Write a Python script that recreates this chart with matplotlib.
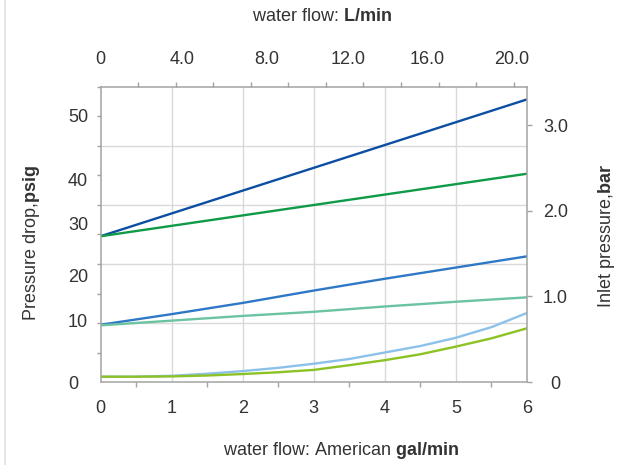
import matplotlib
matplotlib.use("Agg")
import matplotlib.pyplot as plt
from matplotlib.lines import Line2D

plt.rcParams['font.family'] = ['Liberation Sans', 'DejaVu Sans']
plt.rcParams['mathtext.fontset'] = 'custom'
plt.rcParams['mathtext.rm'] = 'Liberation Sans'
plt.rcParams['mathtext.bf'] = 'Liberation Sans:bold'

# water flow, US gal/min
flow_lin = [0, 6]
flow_fine = [0, 0.5, 1, 1.5, 2, 2.5, 3, 3.5, 4, 4.5, 5, 5.5, 6]
flow_int = [0, 1, 2, 3, 4, 5, 6]

# pressure drop, psig
dark_blue = [24.7, 47.9]
green = [24.7, 35.3]
mid_blue = [9.7, 11.5, 13.4, 15.5, 17.5, 19.4, 21.3]
teal = [9.6, 10.4, 11.2, 11.9, 12.8, 13.6, 14.35]
light_blue = [0.9, 0.9, 1.05, 1.4, 1.85, 2.4, 3.1, 3.9, 5.0, 6.1, 7.5, 9.3, 11.7]
lime = [0.9, 0.9, 0.95, 1.1, 1.35, 1.65, 2.05, 2.85, 3.7, 4.7, 6.0, 7.4, 9.1]

# tick labels as printed (the labels sit a bit off the real scale)
psig_labels = ["0", "10", "20", "30", "40", "50"]
psig_label_pos = [0, 10.4, 18.0, 26.9, 34.4, 45.1]
lmin_labels = ["0", "4.0", "8.0", "12.0", "16.0", "20.0"]
lmin_label_pos = [0, 4.37, 8.84, 13.17, 17.4, 21.9]
bar_ticks = [0, 1.0, 2.0, 3.0]
bar_labels = ["0", "1.0", "2.0", "3.0"]

GAL_TO_L = 3.785
PSI_PER_BAR = 14.5
text_c = "#333333"
spine_c = "#a3a3a3"
grid_c = "#d9d9d9"
fs = 13

# plot box in pixels
L, R, T, B = 100.5, 527.0, 87.0, 382.0
W, H = R - L, B - T

fig = plt.figure(figsize=(6.2, 4.65), dpi=100)
ax = fig.add_axes([L / 620, (465 - B) / 465, W / 620, H / 465])

xmax = 6
ymax = 50
ax.set_xlim(0, xmax)
ax.set_ylim(0, ymax)

for g in [1, 2, 3, 4, 5]:
    ax.axvline(g, color=grid_c, lw=1.0, zorder=0)
for g in [10, 20, 30, 40]:
    ax.axhline(g, color=grid_c, lw=1.0, zorder=0)

ax.plot(flow_lin, dark_blue, color="#0b4ea2", lw=1.7)
ax.plot(flow_lin, green, color="#0f9a48", lw=1.7)
ax.plot(flow_int, mid_blue, color="#2e78c6", lw=1.7)
ax.plot(flow_int, teal, color="#6cc3a2", lw=1.7)
ax.plot(flow_fine, light_blue, color="#8cc1e9", lw=1.7)
ax.plot(flow_fine, lime, color="#8cc224", lw=1.7)

for s in ax.spines.values():
    s.set_color(spine_c)
    s.set_linewidth(1.1)

# bottom axis
ax.set_xticks(flow_int)
ax.set_xticks([0.5, 1.5, 2.5, 3.5, 4.5, 5.5] + flow_int, minor=True)
ax.tick_params(axis='x', which='major', length=0, pad=13, labelsize=fs, labelcolor=text_c)
ax.tick_params(axis='x', which='minor', length=3.6, width=1.0, color=spine_c, direction='out')

# left axis
ax.set_yticks(psig_label_pos, psig_labels)
ax.set_yticks(range(0, 51, 5), minor=True)
ax.tick_params(axis='y', which='major', length=0, pad=23.5, labelsize=fs, labelcolor=text_c)
ax.tick_params(axis='y', which='minor', length=3.2, width=1.0, color=spine_c, direction='out')
for lab in ax.get_yticklabels():
    lab.set_horizontalalignment('left')

ax.set_xlabel(r"water flow: American $\bf{gal/min}$", fontsize=fs, color=text_c)
ax.set_ylabel(r"Pressure drop,$\bf{psig}$", fontsize=fs, color=text_c)
ax.xaxis.set_label_coords((341 - L) / W, -(450.7 - B) / H)
ax.yaxis.set_label_coords(-(L - 31.7) / W, (B - 243) / H)
ax.xaxis.label.set_va('center')
ax.yaxis.label.set_va('center')

# right axis, bar
axr = ax.twinx()
axr.set_ylim(0, ymax / PSI_PER_BAR)
axr.set_yticks(bar_ticks, bar_labels)
axr.tick_params(axis='y', which='major', length=3.6, width=1.0, color=spine_c, pad=17,
                labelsize=fs, labelcolor=text_c, direction='out')
for lab in axr.get_yticklabels():
    lab.set_horizontalalignment('center')
axr.set_ylabel(r"Inlet pressure,$\bf{bar}$", fontsize=fs, color=text_c)
axr.yaxis.set_label_coords(1 + (606.5 - R) / W, (B - 236.5) / H)
axr.yaxis.label.set_va('center')
for s in axr.spines.values():
    s.set_visible(False)

# top axis, L/min
axt = ax.twiny()
axt.set_xlim(0, xmax * GAL_TO_L)
axt.set_xticks(lmin_label_pos, lmin_labels)
axt.set_xticks(range(2, 23, 2), minor=True)
axt.tick_params(axis='x', which='major', length=0, pad=14, labelsize=fs, labelcolor=text_c)
axt.tick_params(axis='x', which='minor', length=3.6, width=1.0, color=spine_c, direction='out')
axt.set_xlabel(r"water flow: $\bf{L/min}$", fontsize=fs, color=text_c)
axt.xaxis.set_label_coords((322 - L) / W, 1 + (T - 16.7) / H)
axt.xaxis.label.set_va('center')
for s in axt.spines.values():
    s.set_visible(False)

fig.add_artist(Line2D([4.5 / 620, 4.5 / 620], [0, 1], transform=fig.transFigure,
                      color="#e3e3e3", lw=1.2))

fig.savefig("out.png", dpi=100)
